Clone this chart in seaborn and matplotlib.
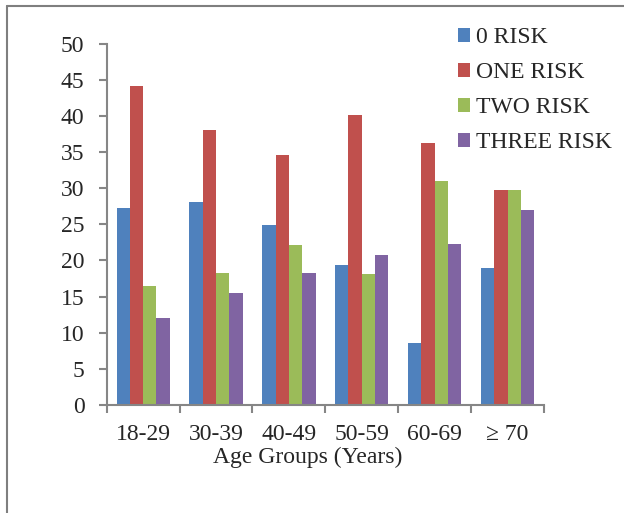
import numpy as np
import pandas as pd
import matplotlib
matplotlib.use("Agg")
import matplotlib.pyplot as plt
import seaborn as sns
from matplotlib.lines import Line2D

# Data
age_groups = ["18-29", "30-39", "40-49", "50-59", "60-69", "\u2265 70"]
risk_levels = ["0 RISK", "ONE RISK", "TWO RISK", "THREE RISK"]
zero_risk = [27.2, 28.1, 24.9, 19.4, 8.6, 18.9]
one_risk = [44.2, 38.0, 34.6, 40.2, 36.2, 29.7]
two_risk = [16.5, 18.3, 22.1, 18.1, 31.0, 29.7]
three_risk = [12.0, 15.5, 18.3, 20.8, 22.3, 27.0]
colors = ["#4F81BD", "#C0504D", "#9BBB59", "#8064A2"]

df = pd.DataFrame({
    "Age": age_groups * 4,
    "Risk": np.repeat(risk_levels, len(age_groups)),
    "Value": zero_risk + one_risk + two_risk + three_risk,
})

sns.set_style("white")
plt.rcParams["font.family"] = ["Liberation Serif", "DejaVu Serif"]

fig = plt.figure(figsize=(6.24, 5.13), dpi=100)
ax = fig.add_axes([0.171, 0.2105, 0.7008, 0.7043])

sns.barplot(data=df, x="Age", y="Value", hue="Risk", palette=colors,
            width=0.73, linewidth=0, saturation=1, ax=ax)

ax.set_xlim(-0.5, 5.5)
ax.set_ylim(0, 50)
ax.set_yticks(range(0, 51, 5))
ax.set_xlabel("")
ax.set_ylabel("")

spine_col = "#868686"
for s in ["top", "right"]:
    ax.spines[s].set_visible(False)
for s in ["left", "bottom"]:
    ax.spines[s].set_color(spine_col)
    ax.spines[s].set_linewidth(1.5)

ax.tick_params(axis="y", which="major", direction="out", length=6, width=1.5,
               color=spine_col, labelsize=17, pad=10, left=True)
ax.set_xticks(np.arange(-0.5, 6, 1), minor=True)
ax.tick_params(axis="x", which="major", length=0, labelsize=17, pad=14)
ax.tick_params(axis="x", which="minor", direction="out", length=6, width=1.5,
               color=spine_col, bottom=True)

fig.text(308 / 624, 1 - 457 / 513, "Age Groups (Years)", fontsize=17,
         ha="center", va="center")

handles, labels = ax.get_legend_handles_labels()
ax.legend(handles, labels, loc="upper left",
          bbox_to_anchor=(458 / 624, 1 - 27 / 513), bbox_transform=fig.transFigure,
          frameon=False, fontsize=17, handlelength=0.52, handleheight=0.52,
          handletextpad=0.25, labelspacing=0.6, borderpad=0, borderaxespad=0)

# outer frame (left and top edges only)
frame_col = "#7f7f7f"
fig.add_artist(Line2D([7 / 624, 7 / 624], [0, 1 - 5.5 / 513], transform=fig.transFigure,
                      color=frame_col, lw=1.5))
fig.add_artist(Line2D([7 / 624, 1], [1 - 5.5 / 513, 1 - 5.5 / 513], transform=fig.transFigure,
                      color=frame_col, lw=1.5))

fig.savefig("out.png", dpi=100)
